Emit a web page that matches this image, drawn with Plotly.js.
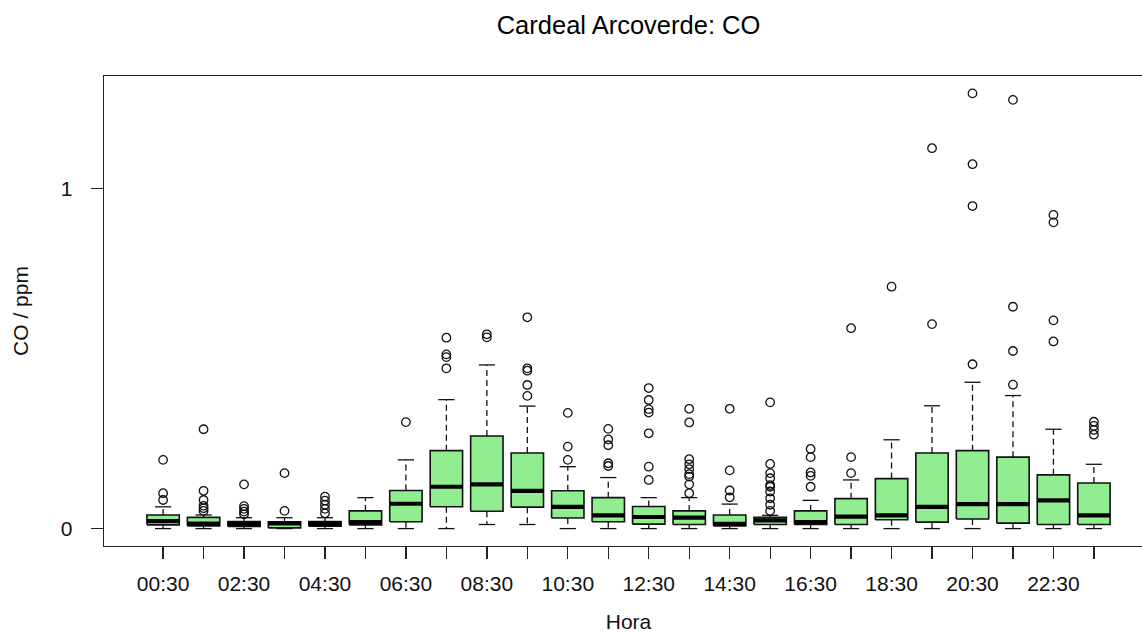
<!DOCTYPE html>
<html>
<head>
<meta charset="utf-8">
<script src="https://cdn.plot.ly/plotly-3.0.1.min.js"></script>
<style>
  html, body { margin: 0; padding: 0; overflow: hidden; background: #fff; }
  #chart { width: 1162px; height: 633px; }
</style>
</head>
<body>
<div id="chart"></div>
<script>
// Hourly CO concentration (ppm) at Cardeal Arcoverde, summarised per hour of day
const hours = ["00:30","01:30","02:30","03:30","04:30","05:30","06:30","07:30",
               "08:30","09:30","10:30","11:30","12:30","13:30","14:30","15:30",
               "16:30","17:30","18:30","19:30","20:30","21:30","22:30","23:30"];

const q1        = [0.011,0.008,0.006,0.002,0.007,0.011,0.020,0.064,0.051,0.063,0.031,0.020,
                   0.013,0.012,0.008,0.012,0.012,0.012,0.026,0.019,0.028,0.016,0.012,0.012];
const medians   = [0.022,0.015,0.014,0.015,0.014,0.019,0.073,0.123,0.130,0.111,0.064,0.039,
                   0.034,0.032,0.014,0.024,0.019,0.035,0.039,0.064,0.072,0.072,0.083,0.039];
const q3        = [0.040,0.033,0.021,0.020,0.021,0.052,0.112,0.229,0.272,0.222,0.111,0.091,
                   0.065,0.052,0.040,0.033,0.052,0.088,0.147,0.222,0.229,0.210,0.158,0.134];
const whiskerLo = [0,0,0,0,0,0,0,0,0.012,0.012,0,0,0,0,0,0,0,0,0,0,0,0,0,0];
const whiskerHi = [0.064,0.040,0.032,0.032,0.032,0.091,0.202,0.379,0.481,0.360,0.182,0.150,
                   0.091,0.091,0.072,0.039,0.083,0.143,0.261,0.361,0.430,0.391,0.292,0.189];
const outliers  = [
  [0.084,0.104,0.202],
  [0.052,0.060,0.067,0.084,0.111,0.292],
  [0.042,0.050,0.058,0.066,0.130],
  [0.052,0.163],
  [0.045,0.058,0.070,0.082,0.094],
  [],
  [0.313],
  [0.471,0.504,0.512,0.561],
  [0.562,0.571],
  [0.390,0.422,0.464,0.471,0.621],
  [0.202,0.241,0.340],
  [0.184,0.192,0.245,0.262,0.293],
  [0.143,0.182,0.280,0.341,0.351,0.378,0.413],
  [0.104,0.130,0.153,0.160,0.175,0.189,0.204,0.312,0.352],
  [0.092,0.112,0.171,0.352],
  [0.052,0.070,0.089,0.109,0.123,0.128,0.148,0.163,0.190,0.371],
  [0.123,0.155,0.165,0.210,0.234],
  [0.163,0.210,0.589],
  [0.711],
  [0.601,1.118],
  [0.483,0.948,1.071,1.279],
  [0.423,0.522,0.652,1.260],
  [0.550,0.612,0.900,0.922],
  [0.276,0.290,0.302,0.314]
];

const BOX_HALF = 0.4;    // half box width, in category units
const CAP_HALF = 0.2;    // half staple width
const FILL = "#90EE90";
const INK = "#111";
const FONT = "Liberation Sans, Arial, sans-serif";

const pos = hours.map((_, i) => i + 1);

// build segment paths from the summary arrays
const boxX = [], boxY = [], whX = [], whY = [], capX = [], capY = [], medX = [], medY = [];
const outX = [], outY = [];
pos.forEach((p, i) => {
  boxX.push(p - BOX_HALF, p + BOX_HALF, p + BOX_HALF, p - BOX_HALF, p - BOX_HALF, null);
  boxY.push(q1[i], q1[i], q3[i], q3[i], q1[i], null);
  whX.push(p, p, null, p, p, null);
  whY.push(q3[i], whiskerHi[i], null, q1[i], whiskerLo[i], null);
  capX.push(p - CAP_HALF, p + CAP_HALF, null, p - CAP_HALF, p + CAP_HALF, null);
  capY.push(whiskerHi[i], whiskerHi[i], null, whiskerLo[i], whiskerLo[i], null);
  medX.push(p - BOX_HALF, p + BOX_HALF, null);
  medY.push(medians[i], medians[i], null);
  outliers[i].forEach(v => { outX.push(p); outY.push(v); });
});

const allVals = [].concat(whiskerLo, whiskerHi, outY);
const yMin = Math.min(...allVals), yMax = Math.max(...allVals);
const yPad = (yMax - yMin) * 0.04;
const xPad = (hours.length) * 0.04;

const traces = [
  { x: whX, y: whY, mode: "lines", line: { color: INK, width: 1.3, dash: "6px,4px" },
    hoverinfo: "skip", showlegend: false },
  { x: boxX, y: boxY, mode: "lines", fill: "toself", fillcolor: FILL,
    line: { color: INK, width: 1.6 }, hoverinfo: "skip", showlegend: false },
  { x: medX, y: medY, mode: "lines", line: { color: "#000", width: 4.2 },
    hoverinfo: "skip", showlegend: false },
  { x: capX, y: capY, mode: "lines", line: { color: INK, width: 1.3 },
    hoverinfo: "skip", showlegend: false },
  { x: outX, y: outY, mode: "markers",
    marker: { symbol: "circle-open", size: 8.5, color: INK, line: { width: 1.3, color: INK } },
    showlegend: false }
];

const layout = {
  width: 1162, height: 633,
  margin: { l: 104, r: 9, t: 76, b: 87 },
  paper_bgcolor: "#fff", plot_bgcolor: "#fff",
  font: { family: FONT, color: "#111", size: 21 },
  title: { text: "Cardeal Arcoverde: CO", font: { family: FONT, size: 25.5, color: "#000" },
           x: 0.5, xref: "paper", xanchor: "center",
           y: 1 - 25 / 633, yref: "container", yanchor: "middle" },
  showlegend: false,
  xaxis: {
    range: [0.5 - xPad, hours.length + 0.5 + xPad],
    tickmode: "array", tickvals: pos,
    ticktext: hours.map((h, i) => (i % 2 === 0 ? h : "")),
    ticks: "outside", ticklen: 12, tickwidth: 1.3, tickcolor: "#222",
    ticklabelstandoff: 6,
    showline: true, mirror: true, linecolor: "#222", linewidth: 1.3,
    showgrid: false, zeroline: false,
    tickfont: { family: FONT, size: 21, color: "#111" },
    title: { text: "Hora", font: { family: FONT, size: 21, color: "#111" }, standoff: 23 }
  },
  yaxis: {
    range: [yMin - yPad, yMax + yPad],
    tickmode: "array", tickvals: [0, 1], ticktext: ["0", "1"],
    ticks: "outside", ticklen: 12, tickwidth: 1.3, tickcolor: "#222",
    ticklabelstandoff: 14,
    showline: true, mirror: true, linecolor: "#222", linewidth: 1.3,
    showgrid: false, zeroline: false,
    tickfont: { family: FONT, size: 21, color: "#111" },
    title: { text: "CO / ppm", font: { family: FONT, size: 21, color: "#111" }, standoff: 26 }
  }
};

Plotly.newPlot("chart", traces, layout, { staticPlot: true, displayModeBar: false });
</script>
</body>
</html>
